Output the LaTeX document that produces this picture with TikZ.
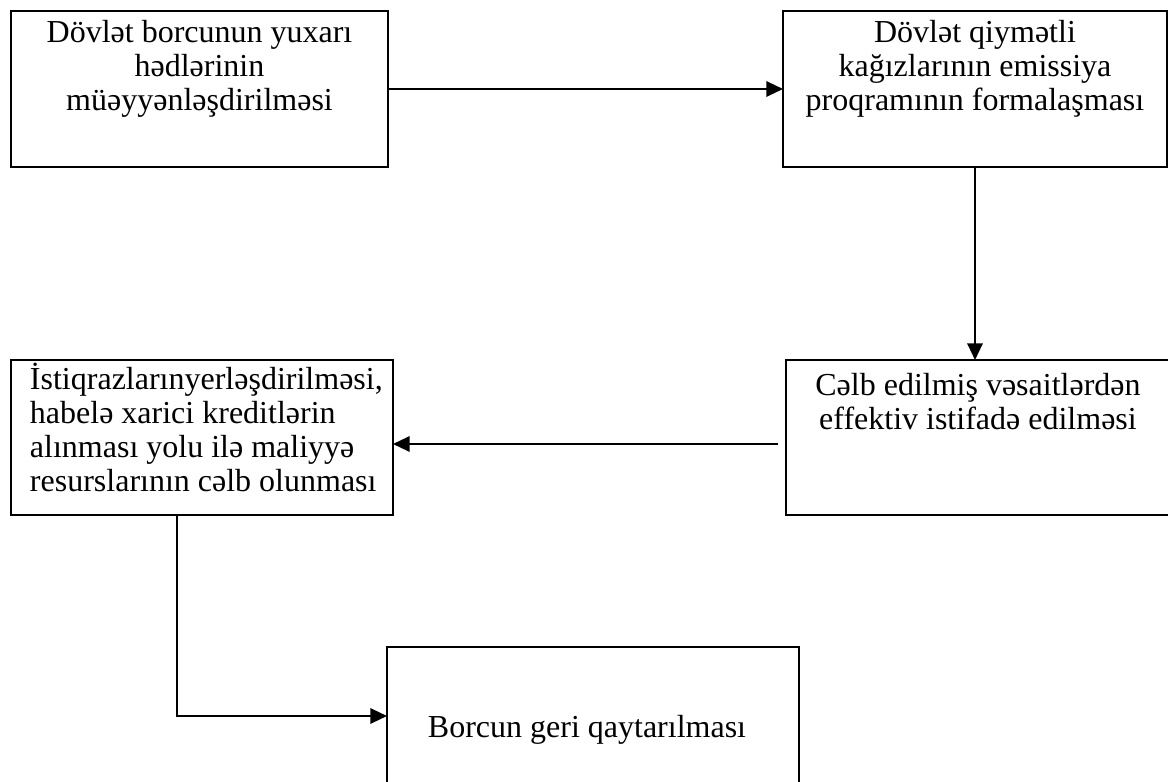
\documentclass[tikz,border=0pt]{standalone}
\usepackage{fontspec}
\setmainfont{Liberation Serif}
\usetikzlibrary{arrows.meta,calc}
\newcommand{\ctrbox}[4]{\parbox[c][#2][t]{#1}{\centering\rule{0pt}{#3}#4\par}}
\newcommand{\lftbox}[5]{\parbox[c][#2][t]{#1}{\raggedright\leftskip=#4\rule{0pt}{#3}#5\par}}
\tikzset{
  box/.style={draw=black, line width=1.6pt, inner sep=0pt, outer sep=0pt,
    font=\fontsize{24pt}{25.6pt}\selectfont},
  arr/.style={line width=1.6pt, -{Triangle[length=12.5pt,width=11.5pt]}}
}
\begin{document}
\begin{tikzpicture}[x=0.75pt,y=-0.75pt]
\useasboundingbox (0,0) rectangle (1168,782);
\node[box] (b1) at (199.5,89) {\ctrbox{282.75pt}{117pt}{23.5pt}{Dövlət borcunun yuxarı\\ hədlərinin\\ müəyyənləşdirilməsi}};
\node[box] (b2) at (975,89) {\ctrbox{288pt}{117pt}{23.5pt}{Dövlət qiymətli\\ kağızlarının emissiya\\ proqramının formalaşması}};
\node[box] (b3) at (978,437.5) {\ctrbox{288pt}{116.25pt}{26.5pt}{Cəlb edilmiş vəsaitlərdən\\ effektiv istifadə edilməsi}};
\node[box] (b4) at (202,437.5) {\lftbox{286.5pt}{116.25pt}{22pt}{14.25pt}{İstiqrazlarınyerləşdirilməsi,\\ habelə xarici kreditlərin\\ alınması yolu ilə maliyyə\\ resurslarının cəlb olunması}};
\node[box] (b5) at (593,716) {\ctrbox{309pt}{103.5pt}{68pt}{Borcun geri qaytarılması\hspace*{9pt}\null}};
\draw[arr] (b1.east) -- (b2.west);
\draw[arr] (b2.south) -- (b2.south |- b3.north);
\coordinate (a3) at ([shift={(-8,6.5)}]b3.west);
\draw[arr] (a3) -- (a3 -| b4.east);
\coordinate (a4) at ([shift={(-25,0)}]b4.south);
\draw[arr] (a4) |- (b5.west);
\end{tikzpicture}
\end{document}
